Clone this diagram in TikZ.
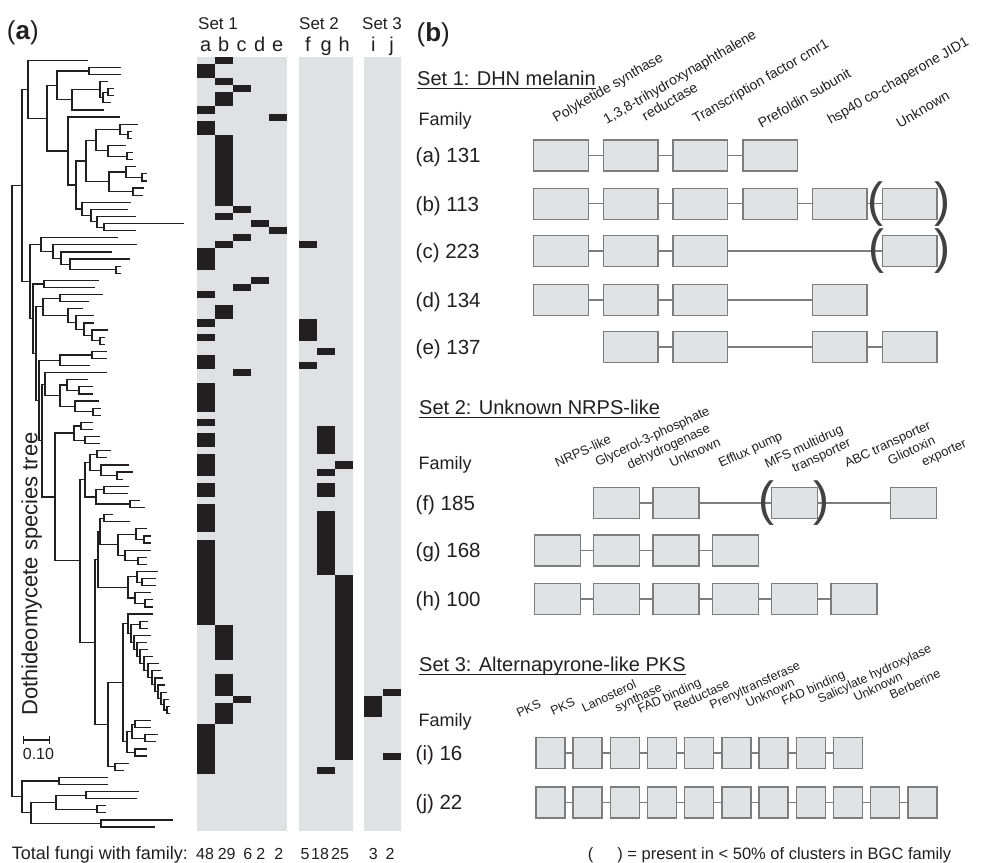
\documentclass[tikz,border=0pt]{standalone}
\usepackage{fontspec}
\setmainfont{Liberation Sans}
\usetikzlibrary{positioning}

\definecolor{ink}{RGB}{35,31,32}
\definecolor{heatgrey}{RGB}{224,225,227}
\definecolor{genefill}{RGB}{225,226,228}
\definecolor{geneedge}{RGB}{125,125,125}

\begin{document}
\begin{tikzpicture}[x=1pt, y=-1pt,
    branch/.style={draw=ink, line width=1.2pt, line cap=rect},
    txt/.style={inner sep=0pt, text=ink},
    panel/.style={txt, font=\fontsize{26}{30}\selectfont, anchor=base west},
    title/.style={txt, font=\fontsize{20}{24}\selectfont, anchor=base west},
    famlab/.style={txt, font=\fontsize{18}{22}\selectfont, anchor=base west},
    rowlab/.style={txt, font=\fontsize{20.5}{24}\selectfont, anchor=base west},
    gene/.style={draw=geneedge, fill=genefill, line width=1.4pt, minimum height=31pt, inner sep=0pt},
    link/.style={draw=geneedge, line width=1.4pt},
    paren/.style={txt, text=ink!85, font=\fontsize{48}{48}\selectfont},
    labA/.style={txt, font=\fontsize{14}{16.8}\selectfont, rotate=30, anchor=base west},
    labB/.style={txt, font=\fontsize{13}{15.6}\selectfont, rotate=25, anchor=base west},
    labC/.style={txt, font=\fontsize{12.5}{14}\selectfont, rotate=25, anchor=base west},
    uline/.style={draw=ink, line width=1.2pt}
]
\useasboundingbox (0,0) rectangle (981,862);
\fill[white] (0,0) rectangle (981,862);

% (a) species tree
\draw[branch] (12,{60.25+7.1*17.634}) -- (12,{60.25+7.1*103.75});
\foreach \x/\px/\ta/\tb in {89/57/1/2, 108/103/4/5, 103/100/4.5/6, 100/72/3/5.25, 72/57/4.125/7,
    57/47/1.5/5.5625, 128/120/10/11, 120/96/9/10.5, 127/108/13/14, 108/96/12/13.5, 96/86/9.75/12.75,
    142/126/16/17, 126/109/15/16.5, 133/109/18/19, 109/86/15.75/18.5, 86/76/11.25/17.125,
    104/97/23/24, 97/91/22/23.5, 91/82/21/22.75, 82/76/20/21.875, 76/68/14.1875/20.9375,
    68/47/8/17.5625, 47/28/3.53125/12.78125, 28/22/0/8.15625,
    116/70/29/30, 70/61/28/29.5, 61/53/27/28.75, 53/41/26/27.875, 41/30/25/26.9375, 44/33/31/32,
    60/43/33/34, 100/92/39/40, 92/84/38/39.5, 84/76/37/38.75, 76/68/36/37.875, 68/43/35/36.9375,
    43/36/33.5/35.96875, 92/60/41/42, 60/39/41.5/43, 79/67/46/47, 67/60/45/46.5, 93/75/49/50,
    75/60/48/49.5, 60/45/45.75/48.75, 45/42/44/47.25, 81/74/51/52, 85/74/53/54, 74/55/51.5/53.5,
    97/90/55/56, 117/101/58/59, 101/90/57/58.5, 90/85/55.5/57.75, 104/96/60/61, 130/96/62/63,
    96/85/60.5/62.5, 85/80/56.625/61.5, 104/100/64/65, 144/136/67/68, 136/118/66/67.5,
    138/125/70/71, 125/118/69/70.5, 118/100/66.75/69.75, 100/98/64.5/68.25, 142/137/73/74,
    137/128/72/73.5, 145/135/76/77, 135/128/75/76.5, 128/98/72.75/75.75, 98/95/66.375/74.25,
    167/164/91/92, 164/161/90/91.5, 161/158/89/90.75, 158/155/88/89.875, 155/152/87/88.9375,
    152/148/86/87.96875, 148/144/85/86.984375, 144/140/84/85.9921875, 140/137/83/84.99609,
    137/134/82/83.99805, 134/131/81/82.99902, 140/131/79/80, 131/128/79.5/81.99951,
    128/123/78/80.749755, 135/132/93/94, 145/132/95/96, 132/127/93.5/95.5, 135/127/97/98,
    127/123/94.5/97.5, 123/108/79.374878/96, 115/108/99/100, 108/95/87.687439/99.5,
    95/80/70.3125/93.59372, 80/55/59.0625/81.95311, 55/42/52.5/70.50781, 42/39/45.625/61.5039,
    39/36/42.25/53.56445, 36/33/34.734375/47.90723, 33/30/31.5/41.3208, 30/22/25.96875/36.4104,
    22/12/4.078125/31.18958, 59/22/101/102, 86/56/103/104, 97/56/105/106, 56/31/103.5/105.5,
    101/31/107/108, 31/22/104.5/107.5, 22/12/101.5/106}
{
  \draw[branch] (\x,{60.25+7.1*\ta}) -- (\x,{60.25+7.1*\tb});
  \draw[branch] (\px,{60.25+3.55*(\ta+\tb)}) -- (\x,{60.25+3.55*(\ta+\tb)});
}
\foreach \px/\xe/\r in {28/87/0, 89/120/1, 89/120/2, 100/107/3, 108/113/4, 108/113/5, 103/110/6,
    72/103/7, 68/119/8, 120/137/9, 128/131/10, 128/131/11, 108/125/12, 127/132/13, 127/132/14,
    126/135/15, 142/146/16, 142/146/17, 133/143/18, 133/142/19, 82/130/20, 91/127/21, 97/135/22,
    104/183/23, 104/135/24, 41/117/25, 53/136/26, 61/111/27, 70/129/28, 116/120/29, 116/120/30,
    44/98/31, 44/94/32, 60/102/33, 60/88/34, 68/82/35, 76/93/36, 84/93/37, 92/107/38, 100/104/39,
    100/104/40, 92/106/41, 92/106/42, 60/89/43, 45/106/44, 67/87/45, 79/92/46, 79/92/47, 75/98/48,
    93/100/49, 93/100/50, 81/92/51, 81/92/52, 85/99/53, 85/99/54, 97/110/55, 97/106/56, 101/128/57,
    117/132/58, 117/122/59, 104/128/60, 104/127/61, 130/139/62, 130/144/63, 104/112/64, 104/129/65,
    136/146/66, 144/150/67, 144/150/68, 125/150/69, 138/146/70, 138/146/71, 137/157/72, 142/155/73,
    142/155/74, 135/150/75, 145/152/76, 145/152/77, 128/152/78, 140/147/79, 140/147/80, 134/150/81,
    137/146/82, 140/147/83, 144/152/84, 148/158/85, 152/160/86, 155/162/87, 158/164/88, 161/166/89,
    164/168/90, 167/169/91, 167/169/92, 135/150/93, 135/150/94, 145/157/95, 145/155/96, 135/146/97,
    135/146/98, 115/128/99, 115/123/100, 59/107/101, 59/107/102, 86/138/103, 86/136/104,
    97/105/105, 97/105/106, 101/172/107, 101/154/108}
  \draw[branch] (\px,{60.25+7.1*\r}) -- (\xe,{60.25+7.1*\r});

\draw[branch] (23.3,740) -- (49.3,740);
\draw[branch] (23.3,736.5) -- (23.3,743.5);
\draw[branch] (49.3,736.5) -- (49.3,743.5);
\node[txt, font=\fontsize{16}{19}\selectfont, anchor=base west] (scale) at (22.7,759) {0.10};
\node[txt, font=\fontsize{22}{26}\selectfont, rotate=90, anchor=base] (treelab) at (37.3,574) {Dothideomycete species tree};

% presence matrix
\fill[heatgrey] (196.7,56.7) rectangle (286.7,831);
\fill[heatgrey] (299,56.7) rectangle (353.3,831);
\fill[heatgrey] (364.3,56.7) rectangle (401,831);
\foreach \cx/\ra/\rb in {196.7/1/2, 196.7/7/7, 196.7/9/10, 196.7/27/29, 196.7/33/33, 196.7/37/37,
    196.7/39/39, 196.7/42/43, 196.7/46/49, 196.7/51/51, 196.7/53/54, 196.7/56/58, 196.7/60/61,
    196.7/63/66, 196.7/68/79, 196.7/94/100,
    214.7/0/0, 214.7/3/3, 214.7/5/6, 214.7/11/20, 214.7/22/22, 214.7/26/26, 214.7/35/36,
    214.7/80/84, 214.7/87/89, 214.7/91/93,
    232.7/4/4, 232.7/21/21, 232.7/25/25, 232.7/32/32, 232.7/44/44, 232.7/90/90,
    250.7/23/23, 250.7/31/31, 268.6/8/8, 268.6/24/24,
    299/26/26, 299/37/39, 299/43/43,
    317.1/41/41, 317.1/52/55, 317.1/58/58, 317.1/60/61, 317.1/64/72, 317.1/100/100,
    335.2/57/57, 335.2/73/98, 364.3/90/92, 382.7/89/89, 382.7/98/98}
  \fill[ink] (\cx,{56.7+7.1*\ra}) rectangle ({\cx+18.1},{56.7+7.1*(\rb+1)});

\node[txt, font=\fontsize{17}{20}\selectfont, anchor=base west] (set1h) at (198,29.3) {Set 1};
\node[txt, font=\fontsize{17}{20}\selectfont, anchor=base west] (set2h) at (299,29.3) {Set 2};
\node[txt, font=\fontsize{17}{20}\selectfont, anchor=base west] (set3h) at (362,29.3) {Set 3};
\foreach \l/\cx in {a/205.7, b/223.7, c/241.7, d/259.7, e/277.7, f/308, g/326.1, h/344.2, i/373.4, j/391.7}
  \node[txt, font=\fontsize{20}{24}\selectfont, anchor=base] (col\l) at (\cx,51.5) {\l};
\node[txt, font=\fontsize{18}{22}\selectfont, anchor=base west] (total) at (11.7,859.5) {Total fungi with family:};
\foreach \n/\cx [count=\k] in {48/205, 29/226.7, 6/247.8, 2/260.8, 2/278.8, 5/305, 18/320, 25/340, 3/373.3, 2/390}
  \node[txt, font=\fontsize{16}{19}\selectfont, anchor=base] (cnt\k) at (\cx,859.5) {\n};

\node[panel] (pa) at (6.7,39) {(\textbf{a})};
\node[panel] (pb) at (416.5,41) {(\textbf{b})};

% (b) Set 1
\node[title] (t1) at (417,85.3) {Set 1: DHN melanin};
\draw[uline] ([yshift=-3pt]t1.base west) -- ([yshift=-3pt]t1.base east);
\node[famlab] (fam1) at (418.5,125) {Family};
\node[labA] (l1a) at (556,123) {Polyketide synthase};
\node[labA, align=left, anchor=north west] (l1b) at (601.6,115.3) {1,3,8-trihydroxynaphthalene\\\hspace*{35pt}reductase};
\node[labA] (l1c) at (695.9,124) {Transcription factor cmr1};
\node[labA] (l1d) at (761.4,128.3) {Prefoldin subunit};
\node[labA] (l1e) at (830.6,125) {hsp40 co-chaperone JID1};
\node[labA] (l1f) at (899.8,128.3) {Unknown};

\node[rowlab] (ra) at (415.5,162.8) {(a) 131};
\node[rowlab] (rb) at (415.5,211) {(b) 113};
\node[rowlab] (rc) at (415.5,258.3) {(c) 223};
\node[rowlab] (rd) at (415.5,307.3) {(d) 134};
\node[rowlab] (re) at (415.5,354.3) {(e) 137};
\foreach \c in {1,...,4} \node[gene, minimum width=54.6pt] (a\c) at ({561+69.7*(\c-1)},155.5) {};
\foreach \c in {1,...,6} \node[gene, minimum width=54.6pt] (b\c) at ({561+69.7*(\c-1)},203.7) {};
\foreach \c in {1,2,3,6} \node[gene, minimum width=54.6pt] (c\c) at ({561+69.7*(\c-1)},251) {};
\foreach \c in {1,2,3,5} \node[gene, minimum width=54.6pt] (d\c) at ({561+69.7*(\c-1)},300) {};
\foreach \c in {2,3,5,6} \node[gene, minimum width=54.6pt] (e\c) at ({561+69.7*(\c-1)},347) {};
\foreach \p/\q in {a1/a2, a2/a3, a3/a4, b1/b2, b2/b3, b3/b4, b4/b5, b5/b6, c1/c2, c2/c3, c3/c6,
    d1/d2, d2/d3, d3/d5, e2/e3, e3/e5, e5/e6}
  \draw[link] (\p) -- (\q);
\node[paren] (bopen) at (875.2,203.7) {(};
\node[paren] (bclose) at (942.5,203.7) {)};
\node[paren] (copen) at (876,251) {(};
\node[paren] (cclose) at (942.5,251) {)};

% (b) Set 2
\node[title] (t2) at (419,414.3) {Set 2: Unknown NRPS-like};
\draw[uline] ([yshift=-3pt]t2.base west) -- ([yshift=-3pt]t2.base east);
\node[famlab] (fam2) at (418.5,469.6) {Family};
\node[labB] (l2a) at (557.5,468) {NRPS-like};
\node[labB, align=left, anchor=north west] (l2b) at (593.5,458.2) {Glycerol-3-phosphate\\\hspace*{28pt}dehydrogenase};
\node[labB] (l2c) at (672,468) {Unknown};
\node[labB] (l2d) at (721,468) {Efflux pump};
\node[labB, align=left, anchor=north west] (l2e) at (763,459.5) {MFS multidrug\\\hspace*{23pt}transporter};
\node[labB] (l2f) at (847,468) {ABC transporter};
\node[labB, align=left, anchor=north west] (l2g) at (886,456.5) {Gliotoxin\\\hspace*{30pt}exporter};

\node[rowlab] (rf) at (415.5,510.1) {(f) 185};
\node[rowlab] (rg) at (415.5,557.8) {(g) 168};
\node[rowlab] (rh) at (415.5,606.1) {(h) 100};
\foreach \c in {2,3,5,7} \node[gene, minimum width=46pt] (f\c) at ({557.4+59.3*(\c-1)},502.8) {};
\foreach \c in {1,...,4} \node[gene, minimum width=46pt] (g\c) at ({557.4+59.3*(\c-1)},550.5) {};
\foreach \c in {1,...,6} \node[gene, minimum width=46pt] (h\c) at ({557.4+59.3*(\c-1)},598.8) {};
\foreach \p/\q in {f2/f3, f3/f5, f5/f7, g1/g2, g2/g3, g3/g4, h1/h2, h2/h3, h3/h4, h4/h5, h5/h6}
  \draw[link] (\p) -- (\q);
\node[paren] (fopen) at (766,502.8) {(};
\node[paren] (fclose) at (821.5,502.8) {)};

% (b) Set 3
\node[title] (t3) at (419,671.3) {Set 3: Alternapyrone-like PKS};
\draw[uline] ([yshift=-3pt]t3.base west) -- ([yshift=-3pt]t3.base east);
\node[famlab] (fam3) at (418.5,726) {Family};
\node[labC] (l3a) at (519,718) {PKS};
\node[labC] (l3b) at (553,716) {PKS};
\node[labC, align=left, anchor=north west] (l3c) at (580.2,703.8) {Lanosterol\\\hspace*{30pt}synthase};
\node[labC] (l3d) at (640,714) {FAD binding};
\node[labC] (l3e) at (676,712) {Reductase};
\node[labC] (l3f) at (712,710) {Prenyltransferase};
\node[labC] (l3g) at (748,708) {Unknown};
\node[labC] (l3h) at (784,706) {FAD binding};
\node[labC] (l3i) at (820,704) {Salicylate hydroxylase};
\node[labC] (l3j) at (856,702) {Unknown};
\node[labC] (l3k) at (892,700) {Berberine};

\node[rowlab] (ri) at (415.5,760.1) {(i) 16};
\node[rowlab] (rj) at (415.5,809.8) {(j) 22};
\foreach \c in {1,...,9} \node[gene, minimum width=29pt] (i\c) at ({550.3+37.2*(\c-1)},752.8) {};
\foreach \c in {1,...,11} \node[gene, minimum width=29pt] (j\c) at ({550.3+37.2*(\c-1)},802.5) {};
\foreach \p/\q in {i1/i2, i2/i3, i3/i4, i4/i5, i5/i6, i6/i7, i7/i8, i8/i9,
    j1/j2, j2/j3, j3/j4, j4/j5, j5/j6, j6/j7, j7/j8, j8/j9, j9/j10, j10/j11}
  \draw[link] (\p) -- (\q);

\node[txt, font=\fontsize{16.5}{20}\selectfont, anchor=base west] (legend) at (587.7,859) {(\hspace{1.45em}) = present in < 50\% of clusters in BGC family};

\end{tikzpicture}
\end{document}
